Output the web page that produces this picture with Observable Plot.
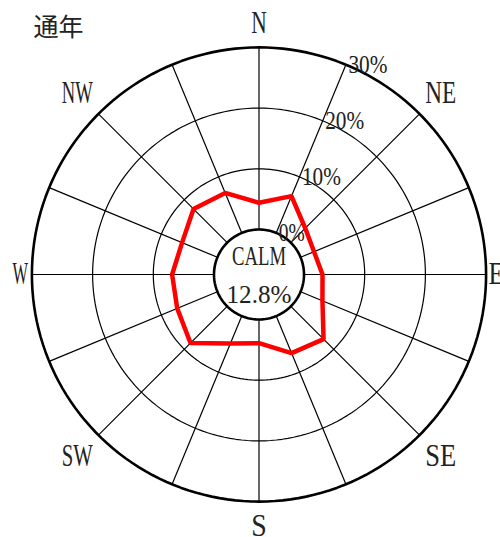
<!DOCTYPE html>
<html>
<head>
<meta charset="utf-8">
<script src="https://cdn.jsdelivr.net/npm/d3@7"></script>
<script src="https://cdn.jsdelivr.net/npm/@observablehq/plot@0.6"></script>
<style>
  html, body { margin: 0; padding: 0; background: #fff; }
</style>
</head>
<body>
<div id="chart"></div>
<script>
// Annual wind rose: frequency (%) of wind from each of 16 directions, calm in the centre.
const title = "通年";
const directions = ["N", "NNE", "NE", "ENE", "E", "ESE", "SE", "SSE",
                    "S", "SSW", "SW", "WSW", "W", "WNW", "NW", "NNW"];
const frequency = [4.4, 6.56, 3.36, 2.4, 3.05, 3.9, 7.63, 6.6,
                   3.9, 4.9, 8.55, 7.17, 6.9, 6.3, 7.84, 7.14];
const calmLabel = "CALM";
const calmPercent = 12.8;
const ringTicks = [0, 10, 20, 30];
const compassLabels = ["N", "NE", "E", "SE", "S", "SW", "W", "NW"];

// Layout: coordinates are in pixels relative to the rose centre, y pointing up.
const W = 500, H = 537;
const cx = 258.5, cy = 274;
const calmRadius = 45;
const pxPerPercent = 6.07;
const radius = p => calmRadius + p * pxPerPercent;
const outerRadius = radius(d3.max(ringTicks));
const toRad = deg => deg * Math.PI / 180;
const polar = (deg, r) => ({x: r * Math.sin(toRad(deg)), y: r * Math.cos(toRad(deg))});
const step = 360 / directions.length;

const ringPoints = ringTicks.flatMap(t =>
  d3.range(0, 361, 2).map(a => ({tick: t, ...polar(a, radius(t))})));
const innerRings = ringPoints.filter(d => d.tick > 0 && d.tick < d3.max(ringTicks));
const outerRing = ringPoints.filter(d => d.tick === d3.max(ringTicks));
const calmRing = ringPoints.filter(d => d.tick === 0);

const spokes = directions.map((d, i) => ({
  dir: d,
  p1: polar(i * step, calmRadius),
  p2: polar(i * step, outerRadius)
}));

const rose = frequency.map((v, i) => ({dir: directions[i], v, ...polar(i * step, radius(v))}));

// Compass labels sit outside the rim; E and W hug it, the others are centred further out.
const compass = compassLabels.map((name, i) => {
  const a = i * 45;
  let r, anchor = "middle";
  if (a === 90) { r = outerRadius + 2.5; anchor = "start"; }
  else if (a === 270) { r = outerRadius + 4; anchor = "end"; }
  else if (a % 180 === 0) r = outerRadius + 24;
  else r = outerRadius + 30;
  return {name, anchor, ...polar(a, r)};
});

const font = "Liberation Serif";
const ink = "#222";

const chart = Plot.plot({
  width: W,
  height: H,
  margin: 0,
  x: {domain: [-cx, W - cx], axis: null},
  y: {domain: [cy - H, cy], axis: null},
  style: {background: "white", fontFamily: font},
  marks: [
    Plot.link(spokes, {
      x1: d => d.p1.x, y1: d => d.p1.y, x2: d => d.p2.x, y2: d => d.p2.y,
      stroke: "black", strokeWidth: 1.2
    }),
    Plot.line(innerRings, {x: "x", y: "y", z: "tick", stroke: "black", strokeWidth: 1.2}),
    Plot.line(outerRing, {x: "x", y: "y", stroke: "black", strokeWidth: 2.6}),
    Plot.line(rose, {
      x: "x", y: "y", curve: "linear-closed",
      stroke: "#ff0000", strokeWidth: 4.5, strokeLinejoin: "miter"
    }),
    Plot.line(calmRing, {x: "x", y: "y", stroke: "black", strokeWidth: 2.6, fill: "white"}),
    Plot.text(ringTicks, {
      x: t => polar(step, radius(t)).x, y: t => polar(step, radius(t)).y,
      text: t => `${t}%`, textAnchor: "start", dx: 2.5,
      fontSize: 26, fontFamily: font, fill: ink
    }),
    ...["start", "middle", "end"].map(anchor =>
      Plot.text(compass.filter(d => d.anchor === anchor), {
        x: "x", y: "y", text: "name", textAnchor: anchor,
        fontSize: 31, fontFamily: font, fill: ink
      })),
    Plot.text([calmLabel], {
      x: () => 0, y: () => 0, text: d => d, dy: -18,
      fontSize: 27, fontFamily: font, fill: ink
    }),
    Plot.text([calmPercent], {
      x: () => 0, y: () => 0, text: d => `${d}%`, dy: 20,
      fontSize: 26, fontFamily: font, fill: ink
    }),
    Plot.text([title], {
      frameAnchor: "top-left", dx: 58, dy: 27, text: d => d,
      textAnchor: "middle", lineAnchor: "middle",
      fontSize: 25, fontFamily: "Noto Sans CJK JP", fill: ink
    })
  ]
});

document.getElementById("chart").appendChild(chart);

// Narrow half-width lettering: each Latin character gets half an em.
d3.select(chart).selectAll("text").each(function () {
  const s = this.textContent;
  if (/[\u3000-\u9fff]/.test(s)) return;
  const size = parseFloat(getComputedStyle(this).fontSize);
  this.setAttribute("textLength", s.length * size * 0.5);
  this.setAttribute("lengthAdjust", "spacingAndGlyphs");
});
</script>
</body>
</html>
